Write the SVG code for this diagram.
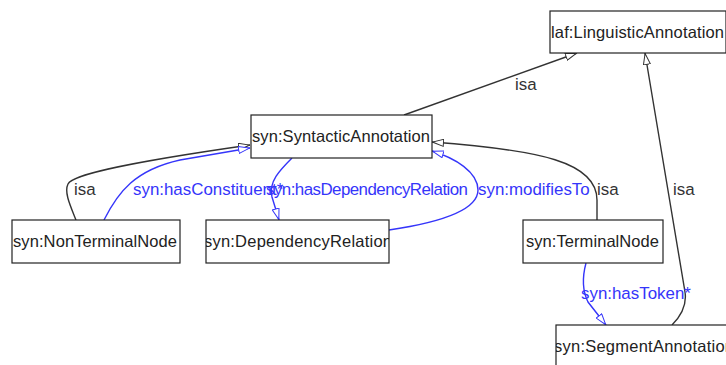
<svg xmlns="http://www.w3.org/2000/svg" width="726" height="365" viewBox="0 0 726 365">
<defs>
<style>
.node rect{fill:#fff;stroke:#222;stroke-width:1.2}
.node text{font-family:"Liberation Sans",Arial,sans-serif;font-size:16.5px;fill:#222}
.e{fill:none;stroke-width:1.4}
.k{stroke:#333}
.b{stroke:#3535fa}
.lbl{font-family:"Liberation Sans",Arial,sans-serif;font-size:16.9px}
.lk{fill:#333}
.lb{fill:#3535fa}
</style>
<marker id="ak" viewBox="0 0 12 8" refX="12" refY="4" markerWidth="12" markerHeight="8" markerUnits="userSpaceOnUse" orient="auto">
<path d="M0.5,0.5 L11.5,4 L0.5,7.5 Z" fill="#fff" stroke="#333" stroke-width="1"/>
</marker>
<marker id="ab" viewBox="0 0 12 8" refX="12" refY="4" markerWidth="12" markerHeight="8" markerUnits="userSpaceOnUse" orient="auto">
<path d="M0.5,0.5 L11.5,4 L0.5,7.5 Z" fill="#fff" stroke="#3535fa" stroke-width="1"/>
</marker>
<clipPath id="cDep"><rect x="206" y="220" width="183" height="43"/></clipPath>
<clipPath id="cSeg"><rect x="556" y="325" width="180" height="43"/></clipPath>
</defs>

<g id="connectors">
<path class="e k" d="M404,115 L577,53" marker-end="url(#ak)"/>
<path class="e k" d="M672,325 C682,315 687,305 685,292 L645,53" marker-end="url(#ak)"/>
<path class="e k" d="M76,220 C70,205 64,192 68,184 C72,176 110,165 250,145" marker-end="url(#ak)"/>
<path class="e b" d="M104,220 C118,192 135,170 180,160 L250,148" marker-end="url(#ab)"/>
<path class="e b" d="M292,158 C280,170 268,182 272,197 L279,220" marker-end="url(#ab)"/>
<path class="e b" d="M389,230 C450,221 478,208 478,190 C478,172 455,158 432,151" marker-end="url(#ab)"/>
<path class="e k" d="M597,220 L597,200 C597,162 540,150 432,142" marker-end="url(#ak)"/>
<path class="e b" d="M586,263 C582,278 582,290 588,302 L606,325" marker-end="url(#ab)"/>
<text class="lbl lk" x="515" y="90">isa</text>
<text class="lbl lk" x="74" y="195">isa</text>
<text class="lbl lb" x="133" y="195">syn:hasConstituent*</text>
<text class="lbl lb" x="266" y="195" textLength="202">syn:hasDependencyRelation</text>
<text class="lbl lb" x="478" y="195">syn:modifiesTo</text>
<text class="lbl lk" x="597" y="195">isa</text>
<text class="lbl lk" x="673" y="195">isa</text>
<text class="lbl lb" x="581" y="299">syn:hasToken*</text>
</g>

<g id="n_LinguisticAnnotation" class="node">
<rect x="550" y="11" width="176" height="42"/>
<text x="551" y="38" textLength="173">laf:LinguisticAnnotation</text>
</g>
<g id="n_SyntacticAnnotation" class="node">
<rect x="251" y="115" width="181" height="43"/>
<text x="252" y="142" textLength="178">syn:SyntacticAnnotation</text>
</g>
<g id="n_NonTerminalNode" class="node">
<rect x="12" y="220" width="168" height="43"/>
<text x="13" y="247" textLength="164">syn:NonTerminalNode</text>
</g>
<g id="n_DependencyRelation" class="node">
<rect x="206" y="220" width="183" height="43"/>
<text x="204" y="247" textLength="188" clip-path="url(#cDep)">syn:DependencyRelation</text>
</g>
<g id="n_TerminalNode" class="node">
<rect x="523" y="220" width="140" height="43"/>
<text x="526" y="247" textLength="133">syn:TerminalNode</text>
</g>
<g id="n_SegmentAnnotation" class="node">
<rect x="556" y="325" width="180" height="43"/>
<text x="554" y="352" textLength="180" clip-path="url(#cSeg)">syn:SegmentAnnotation</text>
</g>
</svg>
